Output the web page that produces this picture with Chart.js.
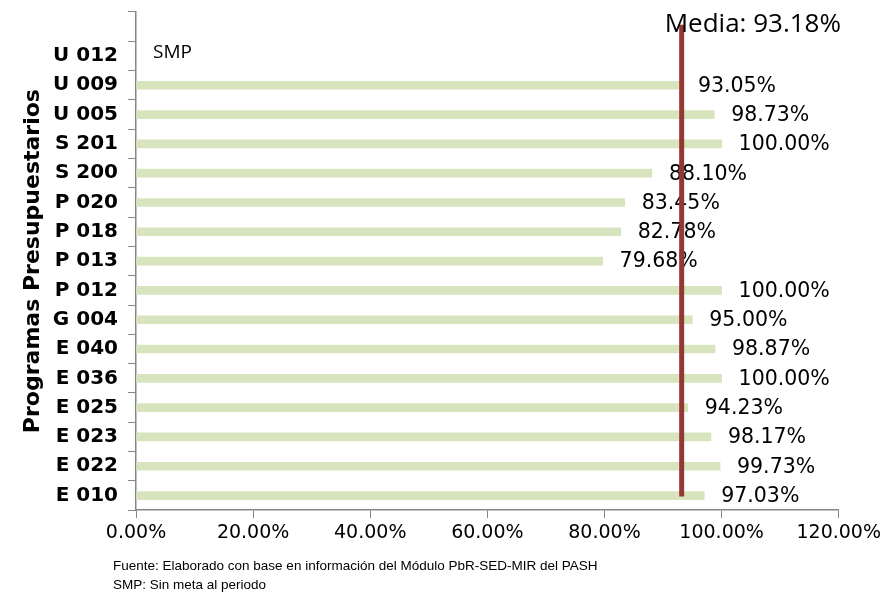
<!DOCTYPE html>
<html>
<head>
<meta charset="utf-8">
<script src="https://cdn.jsdelivr.net/npm/chart.js@4.4.0/dist/chart.umd.min.js"></script>
<style>
  html, body { margin: 0; padding: 0; background: #fff; }
  #wrap { position: relative; width: 884px; height: 593px; }
  .note { position: absolute; left: 113px; font: 13.5px "Liberation Sans", sans-serif; color: #000; }
</style>
</head>
<body>
<div id="wrap">
  <canvas id="myChart" width="884" height="593"></canvas>
  <div class="note" style="top:558px">Fuente: Elaborado con base en información del Módulo PbR-SED-MIR del PASH</div>
  <div class="note" style="top:577px">SMP: Sin meta al periodo</div>
</div>
<script>
// categories top to bottom (first band is empty in the original)
const programas = ['', 'U 012', 'U 009', 'U 005', 'S 201', 'S 200', 'P 020', 'P 018', 'P 013',
  'P 012', 'G 004', 'E 040', 'E 036', 'E 025', 'E 023', 'E 022', 'E 010'];
const avance = [null, null, 93.05, 98.73, 100.00, 88.10, 83.45, 82.78, 79.68,
  100.00, 95.00, 98.87, 100.00, 94.23, 98.17, 99.73, 97.03];
const media = 93.18;
const sinMeta = 'U 012';
const xTicks = [0, 20, 40, 60, 80, 100, 120];

const axisGray = '#868686';

// labels, SMP note and median line
const extras = {
  id: 'extras',
  afterDatasetsDraw(chart) {
    const ctx = chart.ctx;
    const x = chart.scales.x;
    const y = chart.scales.y;
    const meta = chart.getDatasetMeta(0);
    ctx.save();
    ctx.fillStyle = '#000';
    ctx.font = '20.5px "DejaVu Sans"';
    ctx.textAlign = 'left';
    ctx.textBaseline = 'middle';
    meta.data.forEach((bar, i) => {
      if (avance[i] == null) return;
      ctx.fillText(avance[i].toFixed(2) + '%', bar.x + 17, bar.y + 1);
    });
    // SMP
    ctx.font = '19px "Open Sans"';
    ctx.fillText('SMP', x.getPixelForValue(0) + 17, y.getPixelForValue(programas.indexOf(sinMeta)) - 3);
    // median line
    const mx = x.getPixelForValue(media);
    ctx.strokeStyle = '#953735';
    ctx.lineWidth = 5;
    ctx.beginPath();
    ctx.moveTo(mx, y.getPixelForValue(0) - 2);
    ctx.lineTo(mx, y.getPixelForValue(programas.length - 1) + 1);
    ctx.stroke();
    ctx.font = '26px "Open Sans"';
    ctx.textBaseline = 'alphabetic';
    ctx.fillText('Media: ' + media.toFixed(2) + '%', mx - 17, 32);
    ctx.restore();
  }
};

new Chart(document.getElementById('myChart'), {
  type: 'bar',
  data: {
    labels: programas,
    datasets: [{
      data: avance,
      backgroundColor: '#d7e4bd',
      barThickness: 8,
    }],
  },
  plugins: [extras],
  options: {
    indexAxis: 'y',
    responsive: false,
    animation: false,
    layout: { padding: { top: 12, right: 0, left: 20, bottom: 46 } },
    plugins: {
      legend: { display: false },
      tooltip: { enabled: false },
    },
    scales: {
      x: {
        min: 0,
        max: 120,
        afterBuildTicks: (scale) => { scale.ticks = xTicks.map((v) => ({ value: v })); },
        border: { color: axisGray, width: 1.5 },
        grid: { drawOnChartArea: false, color: axisGray, tickLength: 8 },
        ticks: {
          color: '#000',
          font: { family: 'DejaVu Sans', size: 19 },
          padding: 3,
          maxRotation: 0,
          callback: (v) => v.toFixed(2) + '%',
        },
      },
      y: {
        afterFit: (scale) => {
          scale.width = 116;
          scale.paddingTop = 0;
          scale.paddingBottom = 0;
        },
        border: { color: axisGray, width: 1.5 },
        grid: { drawOnChartArea: false, color: axisGray, tickLength: 8 },
        ticks: {
          color: '#000',
          font: { family: 'DejaVu Sans', size: 20, weight: 'bold' },
          padding: 10,
          autoSkip: false,
        },
        title: {
          display: true,
          text: 'Programas Presupuestarios',
          color: '#000',
          font: { family: 'DejaVu Sans', size: 22, weight: 'bold' },
          padding: { top: 0, bottom: 0 },
        },
      },
    },
  },
});
</script>
</body>
</html>
